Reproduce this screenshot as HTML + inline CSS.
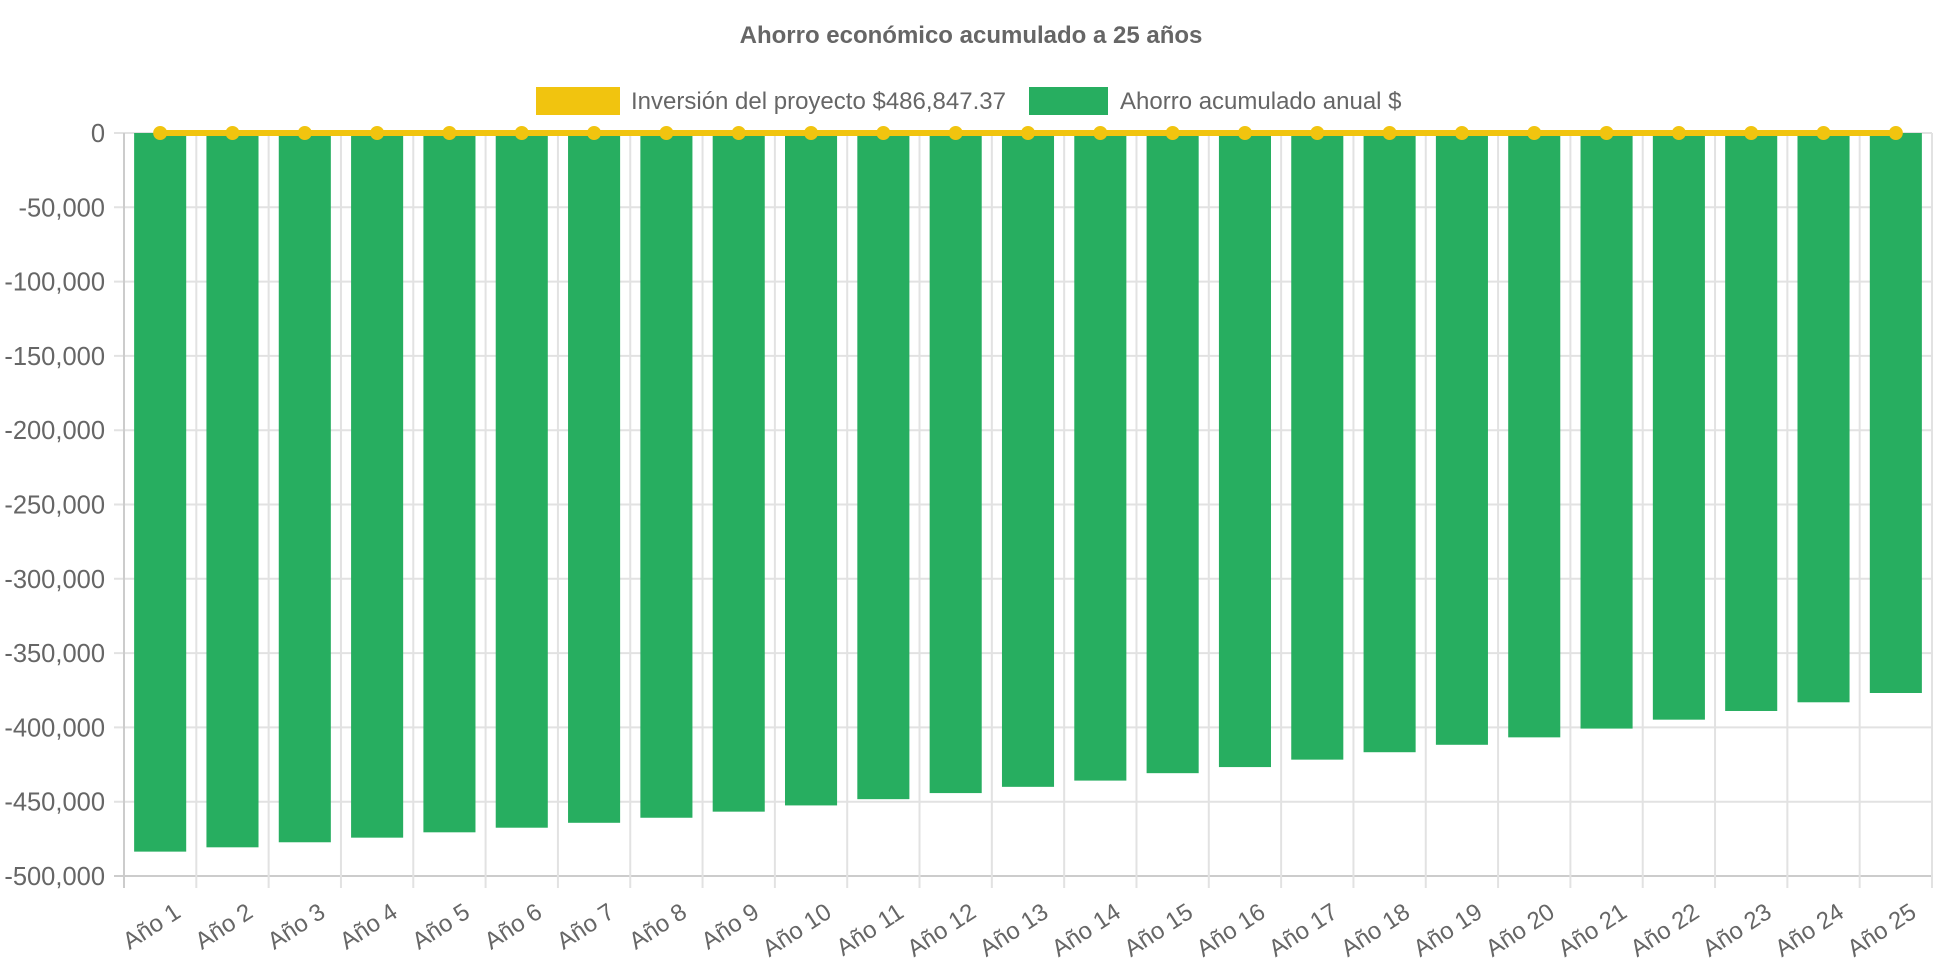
<!DOCTYPE html>
<html><head><meta charset="utf-8"><style>
html,body{margin:0;padding:0;background:#fff;}
svg{display:block;font-family:"Liberation Sans",sans-serif;}
</style></head><body>
<svg id="chart" width="1942" height="970">
<text x="971" y="43" text-anchor="middle" font-size="24" font-weight="bold" fill="#666">Ahorro económico acumulado a 25 años</text>
<g>
<rect x="536" y="87" width="84" height="28" fill="#F1C40F"/>
<text x="631" y="109" font-size="24" fill="#666">Inversión del proyecto $486,847.37</text>
<rect x="1029" y="87" width="79" height="28" fill="#27AE60"/>
<text x="1120" y="109" font-size="24" fill="#666">Ahorro acumulado anual $</text>
</g>
<g id="grid"></g><g id="bars"></g><g id="line"></g><g id="axes"></g>
</svg>
<script>
const categories = Array.from({length:25},(_,i)=>'Año '+(i+1));
const savings = [-483600,-480700,-477300,-474200,-470600,-467500,-464200,-460800,-456700,-452500,-448300,-444200,-440000,-435800,-430800,-426700,-421700,-416700,-411700,-406700,-400800,-394800,-388950,-383100,-376850];
const investment = [0,0,0,0,0,0,0,0,0,0,0,0,0,0,0,0,0,0,0,0,0,0,0,0,0];
const yTicks = [0,-50000,-100000,-150000,-200000,-250000,-300000,-350000,-400000,-450000,-500000];
const NS='http://www.w3.org/2000/svg';
const L=124,R=1932,T=133,B=876,yMin=-500000,yMax=0;
const band=(R-L)/categories.length;
const y=v=>T+(yMax-v)/(yMax-yMin)*(B-T);
const x=i=>L+band*(i+0.5);
function mk(tag,attrs,parent){const e=document.createElementNS(NS,tag);for(const k in attrs)e.setAttribute(k,attrs[k]);document.getElementById(parent).appendChild(e);return e;}
yTicks.forEach((t,i)=>{
  const g=mk('line',{x1:L-10,x2:R,y1:y(t),y2:y(t),stroke:(t===yMin)?'#ccc':'#e2e2e2','stroke-width':2},'grid');
  
  
  const tx=mk('text',{x:L-19,y:y(t)+9,'text-anchor':'end','font-size':25.5,fill:'#666'},'axes');
  tx.textContent=t.toLocaleString('en-US');
  
  
});
for(let i=0;i<=categories.length;i++){
  const xx=L+band*i;
  const g=mk('line',{x1:xx,x2:xx,y1:T,y2:B+12,stroke:i===0?'#ccc':'#e2e2e2','stroke-width':2},'grid');
  
  
}
const bw=band*0.72;
savings.forEach((v,i)=>{
  const r=mk('rect',{x:x(i)-bw/2,y:y(0),width:bw,height:y(v)-y(0),fill:'#27AE60'},'bars');
  
  
});
const pts=investment.map((v,i)=>x(i)+','+y(v)).join(' ');
const pl=mk('polyline',{points:pts,fill:'none',stroke:'#F1C40F','stroke-width':6},'line');


investment.forEach((v,i)=>{
  const c=mk('circle',{cx:x(i),cy:y(v),r:7,fill:'#F1C40F'},'line');
  
  
});
categories.forEach((c,i)=>{
  const tx=mk('text',{x:x(i)+22,y:B+40,'text-anchor':'end','font-size':24,fill:'#666',transform:`rotate(-33 ${x(i)+22} ${B+40})`},'axes');
  tx.textContent=c;
  
  
});
</script>
</body></html>
